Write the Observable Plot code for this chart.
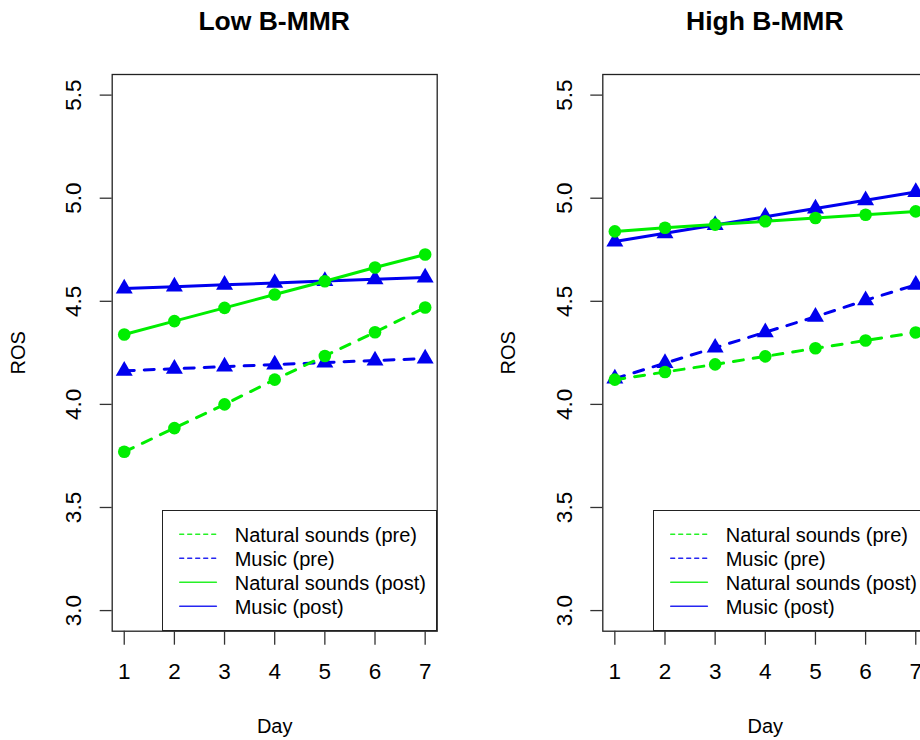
<!DOCTYPE html>
<html>
<head>
<meta charset="utf-8">
<script src="https://cdn.jsdelivr.net/npm/d3@7"></script>
<script src="https://cdn.jsdelivr.net/npm/@observablehq/plot@0.6"></script>
<style>
  html, body { margin: 0; padding: 0; background: #fff; overflow: hidden; }
  #wrap { position: relative; width: 920px; height: 740px; overflow: hidden; font-family: "Liberation Sans", Arial, sans-serif; }
  .panel { position: absolute; top: 0; height: 740px; }
  .panel svg { max-width: none !important; display: block; }
  .title { position: absolute; top: 9px; font-size: 26.5px; font-weight: bold; line-height: 25px; white-space: nowrap; transform: translateX(-50%); color: #000; }
  .legend { position: absolute; background: #fff; border: 1.3px solid #222; box-sizing: border-box; }
</style>
</head>
<body>
<div id="wrap"></div>
<script>
// ---- data ----
const days = [1, 2, 3, 4, 5, 6, 7];
const yTicks = [3.0, 3.5, 4.0, 4.5, 5.0, 5.5];
const panelTitles = ["Low B-MMR", "High B-MMR"];
const seriesNames = ["Natural sounds (pre)", "Music (pre)", "Natural sounds (post)", "Music (post)"];

const lowNaturalPre  = [3.77, 3.885, 4.00, 4.12, 4.235, 4.35, 4.47];
const lowMusicPre    = [4.163, 4.173, 4.183, 4.193, 4.203, 4.213, 4.222];
const lowNaturalPost = [4.339, 4.404, 4.468, 4.533, 4.597, 4.664, 4.727];
const lowMusicPost   = [4.562, 4.571, 4.580, 4.589, 4.598, 4.607, 4.615];

const highNaturalPre  = [4.12, 4.157, 4.194, 4.233, 4.272, 4.31, 4.349];
const highMusicPre    = [4.125, 4.20, 4.275, 4.35, 4.425, 4.505, 4.58];
const highNaturalPost = [4.839, 4.857, 4.872, 4.888, 4.904, 4.92, 4.936];
const highMusicPost   = [4.79, 4.83, 4.87, 4.91, 4.95, 4.99, 5.03];

// ---- styles ----
const GREEN = "#00ee00", BLUE = "#0000ee";
const seriesStyle = [
  {color: GREEN, dash: "10,10", legendDash: "4,4", symbol: "circle"},
  {color: BLUE,  dash: "10,10", legendDash: "4,4", symbol: "triangle"},
  {color: GREEN, dash: null,    legendDash: null,  symbol: "circle"},
  {color: BLUE,  dash: null,    legendDash: null,  symbol: "triangle"}
];
const drawOrder = [1, 0, 3, 2];
const FONT = "'Liberation Sans', Arial, sans-serif";
const TICK_FONT = 22.5;

function makePanel(values, layout) {
  const rows = seriesNames.flatMap((s, i) => days.map((d, j) => ({series: s, day: d, value: values[i][j]})));
  const marks = [
    Plot.frame({stroke: "#222", strokeWidth: 1.3}),
    Plot.axisX({ticks: days, tickSize: 14, tickPadding: 18, tickFormat: d => String(d), stroke: "#333", strokeWidth: 1.3,
      label: "Day", labelAnchor: "center", labelOffset: 101.5, labelArrow: "none"}),
    Plot.axisY({ticks: yTicks, tickSize: 12, tickPadding: 19, tickRotate: -90, tickFormat: d3.format(".1f"), stroke: "#333", strokeWidth: 1.3,
      label: "ROS", labelAnchor: "center", labelOffset: 101.7, labelArrow: "none"})
  ];
  for (const i of drawOrder) {
    const st = seriesStyle[i];
    const data = rows.filter(r => r.series === seriesNames[i]);
    marks.push(Plot.line(data, {x: "day", y: "value", stroke: st.color, strokeWidth: 3,
      strokeDasharray: st.dash, strokeLinecap: "round", strokeLinejoin: "round"}));
    marks.push(Plot.dot(data, {x: "day", y: "value", fill: st.color, stroke: null, symbol: st.symbol, r: 6.3}));
  }
  const svg = Plot.plot({
    width: layout.width,
    height: 740,
    marginTop: 74,
    marginBottom: 109.3,
    marginLeft: layout.marginLeft,
    marginRight: layout.marginRight,
    style: {fontFamily: FONT, fontSize: "20px", background: "transparent", color: "#000", overflow: "visible"},
    x: {domain: [0.76, 7.24]},
    y: {domain: [2.9, 5.6]},
    marks
  });
  // enlarge tick labels (R's axis text is a bit larger than the legend text)
  const tl = d3.select(svg).selectAll('g[aria-label$="tick label"]');
  tl.attr("font-size", TICK_FONT).style("font-size", TICK_FONT + "px");
  tl.selectAll("text").attr("font-size", null).style("font-size", TICK_FONT + "px");
  return svg;
}

function makeLegend(parent, left, top, width, height) {
  const div = d3.select(parent).append("div").attr("class", "legend")
    .style("left", left + "px").style("top", top + "px")
    .style("width", width + "px").style("height", height + "px");
  const svg = div.append("svg").attr("width", width).attr("height", height)
    .style("position", "absolute").style("left", "-1.3px").style("top", "-1.3px").style("overflow", "visible");
  seriesNames.forEach((name, i) => {
    const st = seriesStyle[i];
    const cy = 25.3 + 24 * i;
    svg.append("line").attr("x1", 17.7).attr("x2", 54.4).attr("y1", cy - 1).attr("y2", cy - 1)
      .attr("stroke", st.color).attr("stroke-width", 1.4).attr("stroke-linecap", "round")
      .attr("stroke-opacity", 0.85)
      .attr("stroke-dasharray", st.legendDash);
    svg.append("text").attr("x", 72.7).attr("y", cy + 7).attr("font-size", 20)
      .attr("font-family", FONT).attr("fill", "#000").text(name);
  });
}

const wrap = document.getElementById("wrap");
const panels = [
  {values: [lowNaturalPre, lowMusicPre, lowNaturalPost, lowMusicPost], left: 0, width: 460, marginLeft: 111.7, marginRight: 23.3},
  {values: [highNaturalPre, highMusicPre, highNaturalPost, highMusicPost], left: 460, width: 480, marginLeft: 142.3, marginRight: 12.7}
];
panels.forEach((p, k) => {
  const holder = document.createElement("div");
  holder.className = "panel";
  holder.style.left = p.left + "px";
  holder.style.width = p.width + "px";
  holder.appendChild(makePanel(p.values, p));
  wrap.appendChild(holder);
  const frameLeft = p.left + p.marginLeft;
  const frameRight = p.left + p.width - p.marginRight;
  const t = document.createElement("div");
  t.className = "title";
  t.style.left = ((frameLeft + frameRight) / 2) + "px";
  t.textContent = panelTitles[k];
  wrap.appendChild(t);
  makeLegend(wrap, frameLeft + 50.6, 510, frameRight - frameLeft - 50.6, 630.7 - 510 + 0.7);
});
</script>
</body>
</html>
